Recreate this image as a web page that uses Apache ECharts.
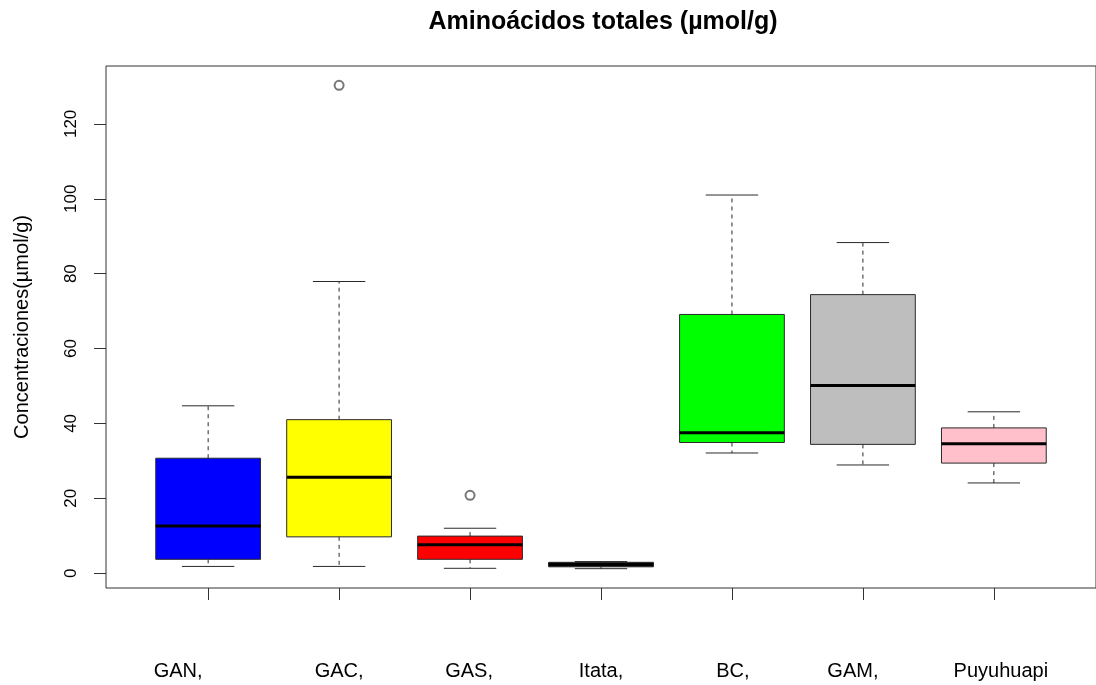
<!DOCTYPE html>
<html>
<head>
<meta charset="utf-8">
<title>Aminoácidos totales</title>
<script src="https://cdn.jsdelivr.net/npm/echarts@6/dist/echarts.min.js"></script>
<style>
  html, body { margin: 0; padding: 0; background: #fff; }
  #chart { width: 1096px; height: 685px; }
</style>
</head>
<body>
<div id="chart"></div>
<script>
// Sites and their five-number summaries (µmol/g)
const categories = ['GAN,', 'GAC,', 'GAS,', 'Itata,', 'BC,', 'GAM,', 'Puyuhuapi'];
const whiskerLow  = [1.8, 1.8, 1.3, 1.2, 32.1, 28.9, 24.1];
const lowerQuart  = [3.7, 9.7, 3.7, 1.7, 34.9, 34.4, 29.4];
const medians     = [12.6, 25.6, 7.6, 2.3, 37.5, 50.1, 34.6];
const upperQuart  = [30.7, 41.0, 9.9, 2.9, 69.1, 74.4, 38.8];
const whiskerHigh = [44.7, 77.9, 12.0, 3.1, 101.0, 88.3, 43.1];
const boxColors   = ['#0000ff', '#ffff00', '#ff0000', '#000000', '#00ff00', '#bebebe', '#ffc0cb'];

// Outlying observations: site position (1-based) and value
const outlierSite  = [2, 3];
const outlierValue = [130.3, 20.8];

const yTicks = [0, 20, 40, 60, 80, 100, 120];
const sitePositions = categories.map((c, i) => i + 1);

const FONT = '"Liberation Sans", Arial, Helvetica, sans-serif';

// horizontal nudges of the site labels (left, right padding in px)
const labelPad = [[0, 60], [0, 0], [0, 2], [0, 0], [2, 0], [0, 20], [14, 0]];

const boxData = categories.map((c, i) => [
  i + 1, whiskerLow[i], lowerQuart[i], medians[i], upperQuart[i], whiskerHigh[i]
]);
const outlierData = outlierSite.map((s, i) => [s, outlierValue[i]]);

const labelRich = {};
labelPad.forEach((p, i) => {
  labelRich['s' + i] = {
    fontFamily: FONT, fontSize: 20, color: '#000',
    padding: [0, p[1], 0, p[0]]
  };
});

function renderBox(params, api) {
  const x = api.value(0);
  const pLow = api.coord([x, api.value(1)]);
  const pQ1 = api.coord([x, api.value(2)]);
  const pMed = api.coord([x, api.value(3)]);
  const pQ3 = api.coord([x, api.value(4)]);
  const pHigh = api.coord([x, api.value(5)]);
  const half = api.size([0.8, 0])[0] / 2;
  const capHalf = half / 2;
  const cx = pMed[0];
  const edge = '#2a2a2a';
  return {
    type: 'group',
    children: [
      { type: 'line', shape: { x1: cx, y1: pQ3[1], x2: cx, y2: pHigh[1] },
        style: { stroke: edge, lineWidth: 1, lineDash: [4, 4] } },
      { type: 'line', shape: { x1: cx, y1: pQ1[1], x2: cx, y2: pLow[1] },
        style: { stroke: edge, lineWidth: 1, lineDash: [4, 4] } },
      { type: 'line', shape: { x1: cx - capHalf, y1: pHigh[1], x2: cx + capHalf, y2: pHigh[1] },
        style: { stroke: edge, lineWidth: 1 } },
      { type: 'line', shape: { x1: cx - capHalf, y1: pLow[1], x2: cx + capHalf, y2: pLow[1] },
        style: { stroke: edge, lineWidth: 1 } },
      { type: 'rect', shape: { x: cx - half, y: pQ3[1], width: half * 2, height: pQ1[1] - pQ3[1] },
        style: { fill: boxColors[params.dataIndex], stroke: edge, lineWidth: 1 } },
      { type: 'line', shape: { x1: cx - half, y1: pMed[1], x2: cx + half, y2: pMed[1] },
        style: { stroke: '#000', lineWidth: 3 } }
    ]
  };
}

const chart = echarts.init(document.getElementById('chart'), null, { renderer: 'canvas' });
chart.setOption({
  animation: false,
  backgroundColor: '#ffffff',
  title: {
    text: 'Aminoácidos totales (µmol/g)',
    left: 598,
    top: 5,
    textAlign: 'center',
    textStyle: { fontFamily: FONT, fontSize: 25, fontWeight: 'bold', color: '#000' }
  },
  grid: {
    left: 106, top: 66, width: 994, height: 522,
    show: true, borderColor: '#333', borderWidth: 1, backgroundColor: 'transparent'
  },
  xAxis: {
    type: 'value',
    min: 0.22, max: 7.78,
    splitLine: { show: false },
    axisLine: { show: false, onZero: false },
    axisTick: { show: true, customValues: sitePositions, length: 12, lineStyle: { color: '#333' } },
    axisLabel: {
      customValues: sitePositions,
      formatter: v => {
        const i = Math.round(v) - 1;
        return '{s' + i + '|' + categories[i] + '}';
      },
      rich: labelRich,
      margin: 73,
      fontFamily: FONT, fontSize: 20, color: '#000'
    }
  },
  yAxis: {
    type: 'value',
    min: -3.96, max: 135.46,
    splitLine: { show: false },
    axisLine: { show: false, onZero: false },
    axisTick: { show: true, customValues: yTicks, length: 12, lineStyle: { color: '#333' } },
    axisLabel: {
      customValues: yTicks,
      rotate: 90,
      margin: 26,
      fontFamily: FONT, fontSize: 17, color: '#000'
    },
    name: 'Concentraciones(µmol/g)',
    nameLocation: 'middle',
    nameRotate: 90,
    nameGap: 74,
    nameTextStyle: { fontFamily: FONT, fontSize: 20, color: '#000' }
  },
  series: [
    {
      type: 'custom',
      renderItem: renderBox,
      encode: { x: 0, y: [1, 2, 3, 4, 5] },
      data: boxData,
      clip: false
    },
    {
      type: 'scatter',
      symbol: 'emptyCircle',
      symbolSize: 9,
      itemStyle: { color: '#555', borderColor: '#555', borderWidth: 1 },
      data: outlierData
    }
  ]
});
</script>
</body>
</html>
